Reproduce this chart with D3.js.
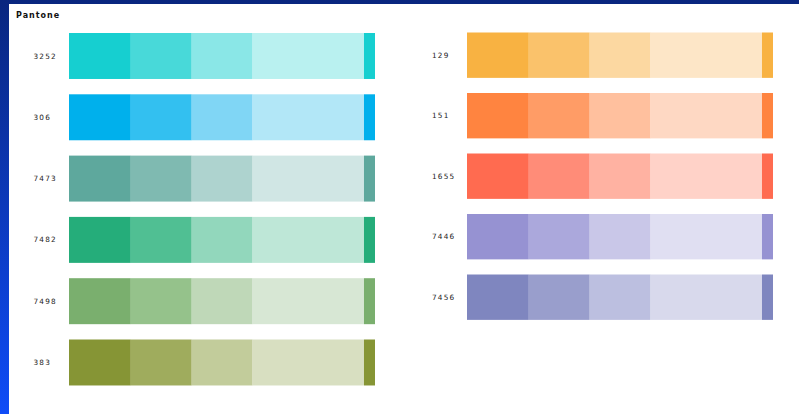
<!DOCTYPE html>
<html lang="en">
<head>
  <meta charset="UTF-8">
  <title>Pantone</title>
  <script src="https://cdn.jsdelivr.net/npm/d3@7"></script>
  <style>
    body { margin: 0; }
    svg { display: block; }
    .lbl { font-family: "DejaVu Sans", sans-serif; font-size: 7.3px; letter-spacing: 1.2px; fill: #222; }
    .title { font-family: "DejaVu Sans", sans-serif; font-size: 8px; font-weight: bold; letter-spacing: 1px; fill: #111; }
  </style>
</head>
<body>
  <div id="chart"></div>
  <script>
    // swatch codes per column
    const leftCodes = ['3252', '306', '7473', '7482', '7498', '383']
    const rightCodes = ['129', '151', '1655', '7446', '7456']

    // tints: 100%, 80%, 60%, 40%, then solid end cap
    const tints = {
      '3252': ['#16cfd0', '#48d9d9', '#8ae7e7', '#b9f1f0', '#16cfd0'],
      '306': ['#00b0ec', '#33c0f0', '#80d6f5', '#b2e7f7', '#00b0ec'],
      '7473': ['#5ea89d', '#7fbab1', '#aed3cf', '#d0e6e4', '#5ea89d'],
      '7482': ['#25ad7a', '#50bf93', '#92d7bc', '#bee7d7', '#25ad7a'],
      '7498': ['#7aaf6e', '#95c28b', '#bfd8b8', '#d7e7d4', '#7aaf6e'],
      '383': ['#869535', '#9fac5d', '#c2cc9b', '#d8dfc1', '#869535'],
      '129': ['#f8b242', '#fac26b', '#fcd8a1', '#fde6c7', '#f8b242'],
      '151': ['#ff8440', '#ff9c66', '#ffc09e', '#fed8c3', '#ff8440'],
      '1655': ['#ff6b50', '#ff8c78', '#ffb2a2', '#ffd2c8', '#ff6b50'],
      '7446': ['#9692d2', '#aba8dc', '#c9c7e8', '#e0dff2', '#9692d2'],
      '7456': ['#7f86bf', '#999ecc', '#bcbfe0', '#d8d9ec', '#7f86bf']
    }

    // segment boundaries along the bar (0..100)
    const segBreaks = [0, 20.2, 40.1, 60, 96.4, 100]

    const width = 799
    const height = 414

    const svg = d3.select('#chart')
      .append('svg')
      .attr('width', width)
      .attr('height', height)

    const grad = svg.append('defs')
      .append('linearGradient')
      .attr('id', 'bg')
      .attr('x1', 0).attr('y1', 0)
      .attr('x2', 0).attr('y2', 1)
    grad.append('stop').attr('offset', '0%').attr('stop-color', '#09267f')
    grad.append('stop').attr('offset', '100%').attr('stop-color', '#0f4cf7')

    svg.append('rect')
      .attr('width', width)
      .attr('height', height)
      .attr('fill', 'url(#bg)')

    svg.append('rect')
      .attr('x', 9)
      .attr('y', 4)
      .attr('width', width - 9)
      .attr('height', height - 4)
      .attr('fill', '#fff')

    svg.append('text')
      .attr('class', 'title')
      .attr('x', 16)
      .attr('y', 18)
      .text('Pantone')

    function column(codes, x0, x1, y0, step, labelX) {
      const pad = 0.25
      const y = d3.scaleBand()
        .domain(codes)
        .range([y0, y0 + step * (codes.length - pad)])
        .paddingInner(pad)
        .paddingOuter(0)

      const x = d3.scaleLinear()
        .domain([0, 100])
        .range([x0, x1])

      const g = svg.append('g')

      const rows = g.selectAll('g')
        .data(codes)
        .enter()
        .append('g')
        .attr('transform', d => `translate(0, ${y(d)})`)

      rows.selectAll('rect')
        .data(d => tints[d].map((c, i) => ({ c, a: segBreaks[i], b: segBreaks[i + 1] })))
        .enter()
        .append('rect')
        .attr('x', s => x(s.a))
        .attr('width', s => x(s.b) - x(s.a))
        .attr('height', y.bandwidth())
        .attr('fill', s => s.c)

      rows.append('text')
        .attr('class', 'lbl')
        .attr('x', labelX)
        .attr('y', y.bandwidth() / 2)
        .attr('dy', '0.35em')
        .text(d => d)
    }

    column(leftCodes, 69, 375, 33, 61.3, 33.5)
    column(rightCodes, 467, 773, 32.5, 60.5, 432)
  </script>
</body>
</html>
